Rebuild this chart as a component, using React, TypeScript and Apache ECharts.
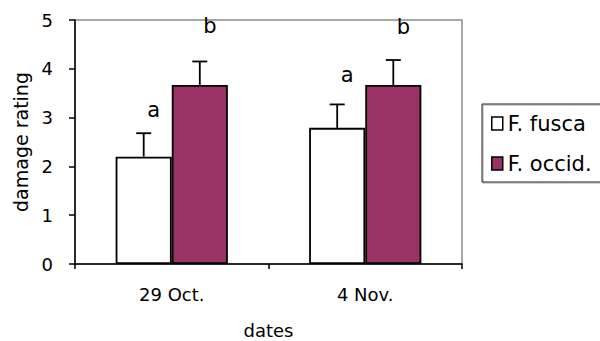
import React, { useEffect, useRef } from "react";
import * as echarts from "echarts";

const categories = ["29 Oct.", "4 Nov."];
const seriesNames = ["F. fusca", "F. occid."];
const fusca = [2.2, 2.79];
const occid = [3.67, 3.67];
const fuscaErr = [0.48, 0.48];
const occidErr = [0.48, 0.51];
const fuscaLetters = ["a", "a"];
const occidLetters = ["b", "b"];
const fuscaLetterY = [3.16, 3.87];
const occidLetterY = [4.87, 4.86];
const yTicks = [0, 1, 2, 3, 4, 5];

const FONT = "'DejaVu Sans', sans-serif";

export default function App() {
  const ref = useRef<HTMLDivElement>(null);

  useEffect(() => {
    if (!ref.current) return;
    const chart = echarts.init(ref.current, null, { renderer: "svg" });

    const values = [fusca, occid];
    const errs = [fuscaErr, occidErr];
    const letters = [fuscaLetters, occidLetters];
    const letterY = [fuscaLetterY, occidLetterY];

    const errData: number[][] = [];
    const letterData: number[][] = [];
    const letterText: string[] = [];
    categories.forEach((_, i) => {
      [0, 1].forEach((s) => {
        errData.push([i, s, values[s][i], values[s][i] + errs[s][i]]);
        letterData.push([i, s, letterY[s][i]]);
        letterText.push(letters[s][i]);
      });
    });

    const barCenter = (api: any, cat: number, side: number) => {
      const band = api.size([1, 0])[0];
      return api.coord([cat, 0])[0] + (side === 0 ? -1 : 1) * band * 0.145;
    };

    chart.setOption({
      animation: false,
      backgroundColor: "#fff",
      textStyle: { fontFamily: FONT },
      grid: {
        left: 75,
        right: 138,
        top: 20,
        bottom: 77,
        outerBoundsMode: "none",
        containLabel: false,
        show: true,
        borderColor: "#8c8c8c",
        borderWidth: 1.5,
        backgroundColor: "transparent",
      },
      legend: {
        orient: "vertical",
        left: 482,
        top: 104,
        data: seriesNames,
        icon: "rect",
        itemWidth: 11,
        itemHeight: 13,
        itemGap: 19,
        padding: [9, 40, 8, 9],
        borderColor: "#222",
        borderWidth: 1,
        shadowColor: "rgba(0,0,0,0.35)",
        shadowOffsetX: 1,
        shadowOffsetY: 1,
        shadowBlur: 0,
        itemStyle: { borderColor: "#000", borderWidth: 1.5 },
        textStyle: { fontSize: 21, color: "#000", fontFamily: FONT, lineHeight: 20 },
      },
      xAxis: {
        type: "category",
        data: categories,
        name: "dates",
        nameLocation: "middle",
        nameGap: 57,
        nameTextStyle: { fontSize: 18, color: "#000", fontFamily: FONT },
        axisLine: { lineStyle: { color: "#000", width: 1.5 } },
        axisTick: { show: true, length: 5, lineStyle: { color: "#000", width: 1.5 } },
        axisLabel: { fontSize: 18, color: "#000", margin: 21, fontFamily: FONT },
        splitLine: { show: false },
      },
      yAxis: {
        type: "value",
        min: yTicks[0],
        max: yTicks[yTicks.length - 1],
        interval: 1,
        name: "damage rating",
        nameLocation: "middle",
        nameGap: 44,
        nameTextStyle: { fontSize: 19, color: "#000", fontFamily: FONT },
        axisLine: { show: true, lineStyle: { color: "#000", width: 1.5 } },
        axisTick: { show: true, length: 6, lineStyle: { color: "#000", width: 1.5 } },
        axisLabel: { fontSize: 18, color: "#000", margin: 22, fontFamily: FONT },
        splitLine: { show: false },
      },
      series: [
        {
          name: seriesNames[0],
          type: "bar",
          data: fusca,
          barGap: "0%",
          barCategoryGap: "42%",
          itemStyle: { color: "#ffffff", borderColor: "#000", borderWidth: 1.8 },
        },
        {
          name: seriesNames[1],
          type: "bar",
          data: occid,
          barGap: "0%",
          barCategoryGap: "42%",
          itemStyle: { color: "#993366", borderColor: "#000", borderWidth: 1.8 },
        },
        {
          name: "errors",
          type: "custom",
          z: 5,
          data: errData,
          renderItem: (params: any, api: any) => {
            const cat = api.value(0);
            const side = api.value(1);
            const lo = api.value(2);
            const hi = api.value(3);
            const cx = barCenter(api, cat, side);
            const yLo = api.coord([cat, lo])[1];
            const yHi = api.coord([cat, hi])[1];
            const st = { stroke: "#000", lineWidth: 1.8 };
            return {
              type: "group",
              children: [
                { type: "line", shape: { x1: cx, y1: yLo, x2: cx, y2: yHi }, style: st },
                { type: "line", shape: { x1: cx - 7.5, y1: yHi, x2: cx + 7.5, y2: yHi }, style: st },
              ],
            };
          },
        },
        {
          name: "letters",
          type: "custom",
          z: 6,
          data: letterData,
          renderItem: (params: any, api: any) => {
            const cat = api.value(0);
            const side = api.value(1);
            const y = api.value(2);
            const cx = barCenter(api, cat, side) + 10;
            const cy = api.coord([cat, y])[1];
            return {
              type: "text",
              x: cx,
              y: cy,
              style: {
                text: letterText[params.dataIndex],
                fontSize: 21,
                fontFamily: FONT,
                fill: "#000",
                align: "center",
                verticalAlign: "middle",
              },
            };
          },
        },
      ],
    });

    return () => chart.dispose();
  }, []);

  return <div ref={ref} style={{ width: 600, height: 341, position: "absolute", left: 0, top: 0 }} />;
}
